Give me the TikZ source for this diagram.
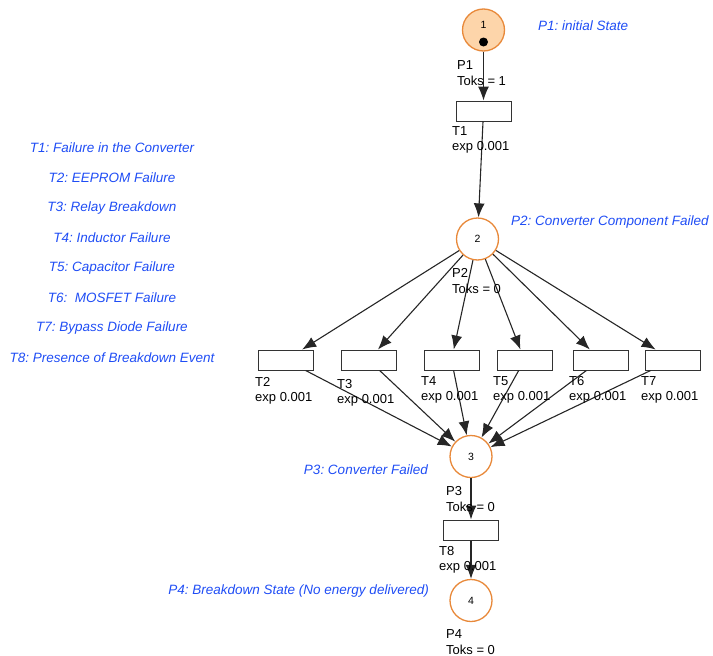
\documentclass[tikz,border=0pt]{standalone}
\usepackage{fontspec}
\setmainfont{Liberation Sans}
\frenchspacing
\usetikzlibrary{arrows.meta}
\definecolor{placeorange}{HTML}{E8893A}
\definecolor{tokenfill}{HTML}{FDD5AA}
\definecolor{noteblue}{HTML}{1F4DF5}
\tikzset{
  place/.style={circle, draw=placeorange, line width=1.3pt, minimum size=42pt, inner sep=0pt},
  trans/.style={draw=black!80, line width=1pt, minimum width=55pt, minimum height=20pt, inner sep=0pt},
  num/.style={inner sep=0pt, font=\fontsize{10.5}{11}\selectfont},
  info/.style={anchor=west, align=left, inner sep=0pt, font=\fontsize{13}{15.5}\selectfont},
  note/.style={text=noteblue, inner sep=0pt, font=\fontsize{13.5}{15}\selectfont\itshape},
  arc/.style={-{Latex[length=14pt,width=11pt]}, draw=black!85, line width=1.1pt}
}
\begin{document}
\begin{tikzpicture}[x=1pt, y=-1pt]
  \useasboundingbox (0,0) rectangle (713,656);

  % places
  \node[place, fill=tokenfill] (P1) at (483.5,30) {};
  \node[num] (n1) at (483.5,25) {1};
  \fill (483.5,42) circle (4.5pt);
  \node[place] (P2) at (477.5,239) {};
  \node[num] (n2) at (P2) {2};
  \node[place] (P3) at (471,456.5) {};
  \node[num] (n3) at (P3) {3};
  \node[place] (P4) at (471,600.5) {};
  \node[num] (n4) at (P4) {4};

  % transitions
  \node[trans] (T1) at (483.5,111) {};
  \node[trans] (T2) at (285.5,360) {};
  \node[trans] (T3) at (368.5,360) {};
  \node[trans] (T4) at (451.5,360) {};
  \node[trans] (T5) at (524.5,360) {};
  \node[trans] (T6) at (600.5,360) {};
  \node[trans] (T7) at (672.5,360) {};
  \node[trans] (T8) at (471,530) {};

  % arcs
  \draw[arc] (P1) -- (T1);
  \draw[arc] (T1) -- (P2);
  \foreach \t in {T2,T3,T4,T5,T6,T7} {
    \draw[arc] (P2) -- (\t);
    \draw[arc] (\t) -- (P3);
  }
  \draw[arc] (P3) -- (T8);
  \draw[arc] (T8) -- (P4);

  % labels
  \node[info] (lP1) at (457,73) {P1\\Toks = 1};
  \node[info] (lT1) at (452,140) {T1\\exp 0.001};
  \node[info] (lP2) at (452,281) {P2\\Toks = 0};
  \node[info] (lT2) at (255,391) {T2\\exp 0.001};
  \node[info] (lT3) at (337,393) {T3\\exp 0.001};
  \node[info] (lT4) at (421,390) {T4\\exp 0.001};
  \node[info] (lT5) at (493,390) {T5\\exp 0.001};
  \node[info] (lT6) at (569,390) {T6\\exp 0.001};
  \node[info] (lT7) at (641,390) {T7\\exp 0.001};
  \node[info] (lP3) at (446,499) {P3\\Toks = 0};
  \node[info] (lT8) at (439,560) {T8\\exp 0.001};
  \node[info] (lP4) at (446,642) {P4\\Toks = 0};

  % notes
  \node[note, anchor=west] (dP1) at (538,26) {P1: initial State};
  \node[note, anchor=west] (dP2) at (511,222) {P2: Converter Component Failed};
  \node[note, anchor=east] (dP3) at (428,470) {P3: Converter Failed};
  \node[note, anchor=east] (dP4) at (429,591) {P4: Breakdown State (No energy delivered)};
  \node[note] (dT1) at (112,148) {T1: Failure in the Converter};
  \node[note] (dT2) at (112,178) {T2: EEPROM Failure};
  \node[note] (dT3) at (112,208) {T3: Relay Breakdown};
  \node[note] (dT4) at (112,238) {T4: Inductor Failure};
  \node[note] (dT5) at (112,268) {T5: Capacitor Failure};
  \node[note] (dT6) at (112,298) {T6:\ \ MOSFET Failure};
  \node[note] (dT7) at (112,328) {T7: Bypass Diode Failure};
  \node[note] (dT8) at (112,358) {T8: Presence of Breakdown Event};
\end{tikzpicture}
\end{document}
